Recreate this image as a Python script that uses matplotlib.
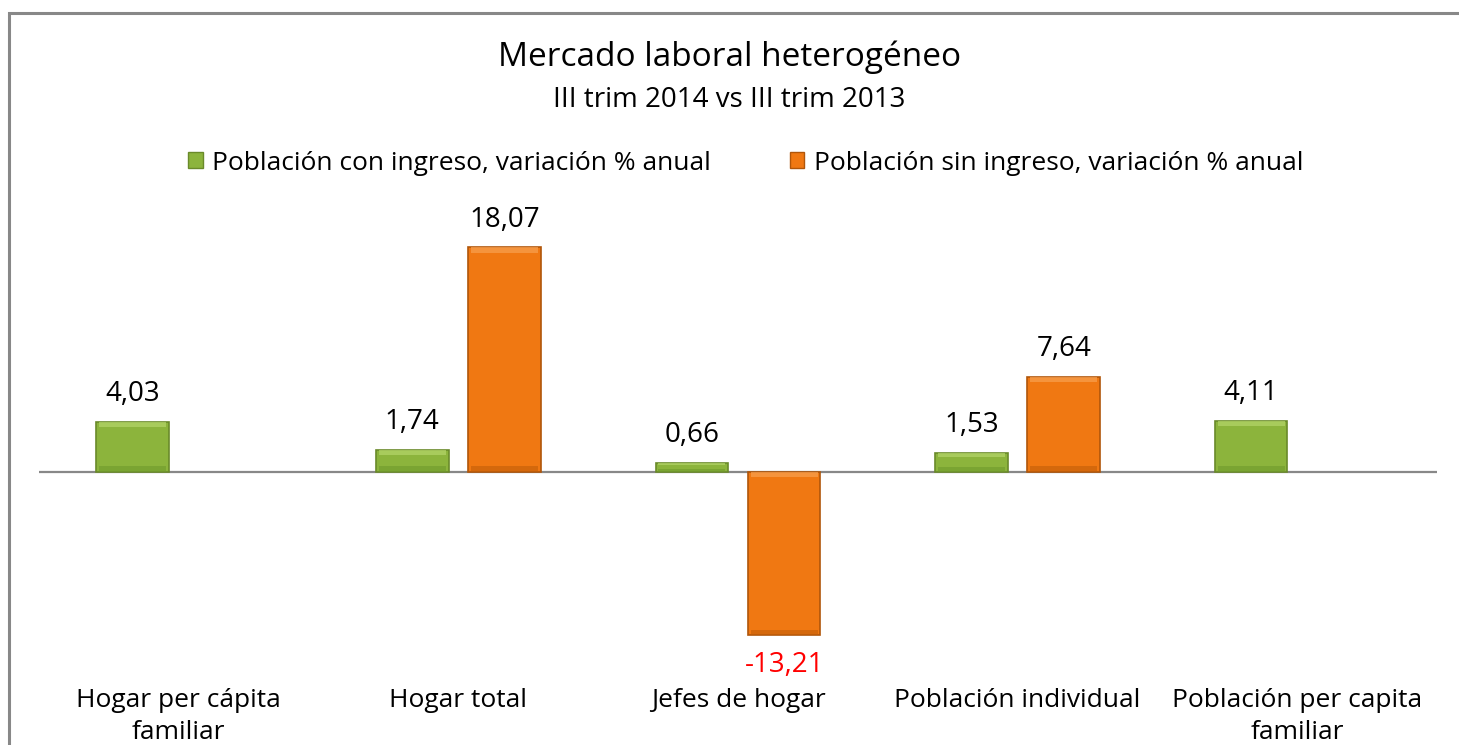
import numpy as np
import matplotlib.pyplot as plt
from matplotlib.patches import Rectangle

plt.rcParams['font.family'] = ['Open Sans', 'DejaVu Sans']

categorias = ['Hogar per cápita\nfamiliar', 'Hogar total', 'Jefes de hogar',
              'Población individual', 'Población per capita\nfamiliar']
con_ingreso = [4.03, 1.74, 0.66, 1.53, 4.11]
sin_ingreso = [np.nan, 18.07, -13.21, 7.64, np.nan]
series = ['Población con ingreso, variación % anual',
          'Población sin ingreso, variación % anual']

verde = '#8cb43c'
naranja = '#f07812'

fig = plt.figure(figsize=(14.59, 7.45), dpi=100)
ax = fig.add_axes([39 / 1459, 1 - 660 / 745, 1398 / 1459, 460 / 745])

x = np.arange(len(categorias))
w = 0.26
b1 = ax.bar(x - 0.165, con_ingreso, w, color=verde, edgecolor='#6a8a2a', lw=1.2, zorder=3)
b2 = ax.bar(x + 0.165, sin_ingreso, w, color=naranja, edgecolor='#b0560a', lw=1.2, zorder=3)

# simple bevel: light strip on top, dark strip at bottom of each bar
for bars, hi, lo in [(b1, '#b5d66a', '#6f9a2c'), (b2, '#f8a050', '#c25e08')]:
    for r in bars:
        h = r.get_height()
        if np.isnan(h):
            continue
        x0, wd = r.get_x(), r.get_width()
        y0, y1 = min(0, h), max(0, h)
        s = min(0.45, abs(h) * 0.25)
        ax.add_patch(Rectangle((x0 + 0.01, y1 - s), wd - 0.02, s, color=hi, lw=0, zorder=4, alpha=0.7))
        ax.add_patch(Rectangle((x0 + 0.01, y0), wd - 0.02, s, color=lo, lw=0, zorder=4, alpha=0.6))

def fmt(v):
    return f'{v:.2f}'.replace('.', ',')

for bars, vals in [(b1, con_ingreso), (b2, sin_ingreso)]:
    for r, v in zip(bars, vals):
        if np.isnan(v):
            continue
        cx = r.get_x() + r.get_width() / 2
        if v >= 0:
            ax.annotate(fmt(v), (cx, v), xytext=(0, 10), textcoords='offset points',
                        ha='center', va='bottom', fontsize=20)
        else:
            ax.annotate(fmt(v), (cx, v), xytext=(0, -11), textcoords='offset points',
                        ha='center', va='top', fontsize=20, color='red')

ax.axhline(0, color='#888888', lw=1.6, zorder=2)
ax.set_xlim(-0.5, len(categorias) - 0.5)
ax.set_ylim(-15.2, 21.9)
ax.set_xticks([])
ax.set_yticks([])
for s in ax.spines.values():
    s.set_visible(False)

for xi, c in zip(x, categorias):
    ax.text(xi, -17.45, c, ha='center', va='top', fontsize=19, linespacing=1.4)

fig.text(0.5, 1 - 57 / 745, 'Mercado laboral heterogéneo', ha='center', va='center', fontsize=24)
fig.text(0.5, 1 - 100 / 745, 'III trim 2014 vs III trim 2013', ha='center', va='center', fontsize=20)

h1 = Rectangle((0, 0), 1, 1, color=verde, ec='#6a8a2a')
h2 = Rectangle((0, 0), 1, 1, color=naranja, ec='#b0560a')
fig.legend([h1, h2], series, loc='center', bbox_to_anchor=(0.511, 1 - 163 / 745), ncol=2,
           frameon=False, fontsize=19, handlelength=0.55, handleheight=0.55,
           handletextpad=0.35, columnspacing=3.0)

fig.patches.append(Rectangle((9 / 1459, -0.05), 1.2, 1 - 13 / 745 + 0.05, transform=fig.transFigure,
                             fill=False, ec='#888888', lw=2.2))

fig.savefig('out.png', dpi=100)
